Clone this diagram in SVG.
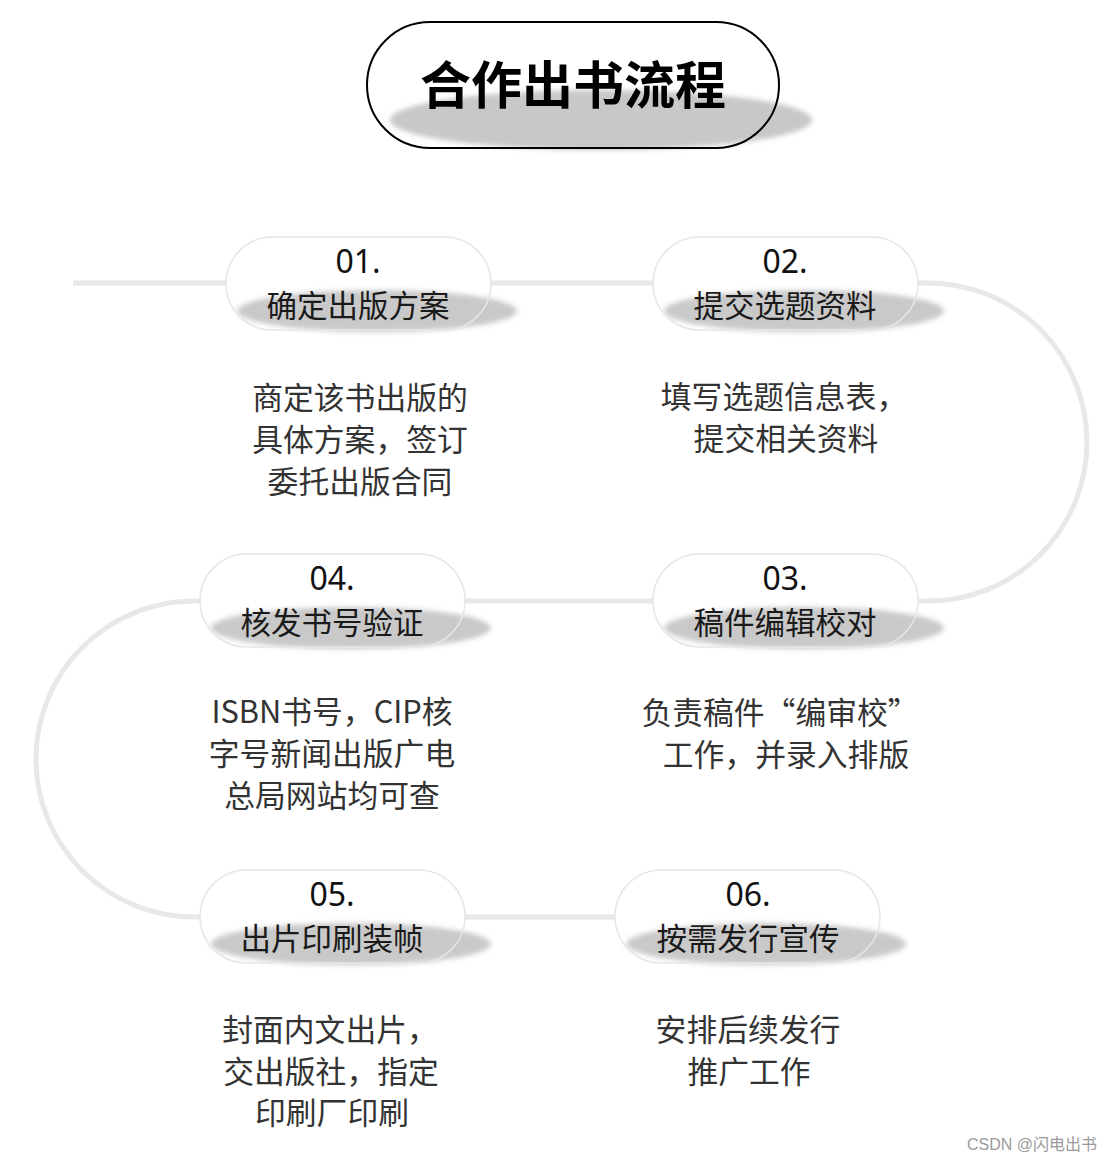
<svg xmlns="http://www.w3.org/2000/svg" width="1112" height="1162" viewBox="0 0 1112 1162">
<style>
.pill{fill:none;stroke:#e6e6e6;stroke-width:1.5}
.shadow{fill:#c9c9c9;filter:url(#blur)}
.num{font-family:"Noto Sans","Open Sans",sans-serif;font-size:32px;fill:#111;text-anchor:middle}
.lbl{font-family:"Noto Sans CJK SC",sans-serif;font-size:30.5px;fill:#1a1a1a;text-anchor:middle}
.desc{font-family:"Noto Sans CJK SC",sans-serif;font-size:30.8px;fill:#333;text-anchor:middle}
.conn{fill:none;stroke:#e8e8e8;stroke-width:5}
</style>
<defs>
<filter id="blur" x="-20%" y="-50%" width="140%" height="200%"><feGaussianBlur stdDeviation="2.5"/></filter>
</defs>
<rect width="1112" height="1162" fill="#fff"/>
<g id="connectors">
<path class="conn" d="M73,283 H226"/>
<path class="conn" d="M491,283 H653"/>
<path class="conn" d="M918,283 H928 A159,159 0 0 1 928,601 H918"/>
<path class="conn" d="M465,601 H653"/>
<path class="conn" d="M200,601 H194 A158,158 0 0 0 194,917 H200"/>
<path class="conn" d="M465,917 H615"/>
</g>
<g id="title">
<ellipse cx="601" cy="120" rx="211" ry="30" fill="#c8c8c8" filter="url(#blur)"/>
<rect x="367" y="22" width="412" height="126" rx="63" fill="none" stroke="#000" stroke-width="2"/>
<text x="573" y="104" font-family="Noto Sans CJK SC,sans-serif" font-size="51" font-weight="700" text-anchor="middle" fill="#000">合作出书流程</text>
</g>
<g id="node01">
<ellipse class="shadow" cx="377" cy="311" rx="140" ry="21"/>
<rect class="pill" x="226" y="237" width="265" height="93" rx="46.5"/>
<text class="num" x="358" y="273">01.</text>
<text class="lbl" x="358" y="317">确定出版方案</text>
<text class="desc" x="360" y="409">商定该书出版的</text>
<text class="desc" x="360" y="451">具体方案，签订</text>
<text class="desc" x="360" y="493">委托出版合同</text>
</g>
<g id="node02">
<ellipse class="shadow" cx="804" cy="311" rx="140" ry="21"/>
<rect class="pill" x="653" y="237" width="265" height="93" rx="46.5"/>
<text class="num" x="785" y="273">02.</text>
<text class="lbl" x="785" y="317">提交选题资料</text>
<text class="desc" x="784" y="408">填写选题信息表，</text>
<text class="desc" x="786" y="450">提交相关资料</text>
</g>
<g id="node03">
<ellipse class="shadow" cx="804" cy="628" rx="140" ry="21"/>
<rect class="pill" x="653" y="554" width="265" height="93" rx="46.5"/>
<text class="num" x="785" y="590">03.</text>
<text class="lbl" x="785" y="634">稿件编辑校对</text>
<text class="desc" x="780" y="724">负责稿件“编审校”</text>
<text class="desc" x="786" y="766">工作，并录入排版</text>
</g>
<g id="node04">
<ellipse class="shadow" cx="351" cy="628" rx="140" ry="21"/>
<rect class="pill" x="200" y="554" width="265" height="93" rx="46.5"/>
<text class="num" x="332" y="590">04.</text>
<text class="lbl" x="332" y="634">核发书号验证</text>
<text class="desc" x="332" y="723">ISBN书号，CIP核</text>
<text class="desc" x="332" y="765">字号新闻出版广电</text>
<text class="desc" x="332" y="807">总局网站均可查</text>
</g>
<g id="node05">
<ellipse class="shadow" cx="351" cy="944" rx="140" ry="21"/>
<rect class="pill" x="200" y="870" width="265" height="93" rx="46.5"/>
<text class="num" x="332" y="906">05.</text>
<text class="lbl" x="332" y="950">出片印刷装帧</text>
<text class="desc" x="330" y="1041">封面内文出片，</text>
<text class="desc" x="331" y="1083">交出版社，指定</text>
<text class="desc" x="332" y="1124">印刷厂印刷</text>
</g>
<g id="node06">
<ellipse class="shadow" cx="766" cy="944" rx="140" ry="21"/>
<rect class="pill" x="615" y="870" width="265" height="93" rx="46.5"/>
<text class="num" x="748" y="906">06.</text>
<text class="lbl" x="748" y="950">按需发行宣传</text>
<text class="desc" x="748" y="1041">安排后续发行</text>
<text class="desc" x="749" y="1083">推广工作</text>
</g>
<text x="1097" y="1150" font-family="Liberation Sans,Noto Sans CJK SC,sans-serif" font-size="16" fill="#9a9a9a" text-anchor="end">CSDN @闪电出书</text>
</svg>
